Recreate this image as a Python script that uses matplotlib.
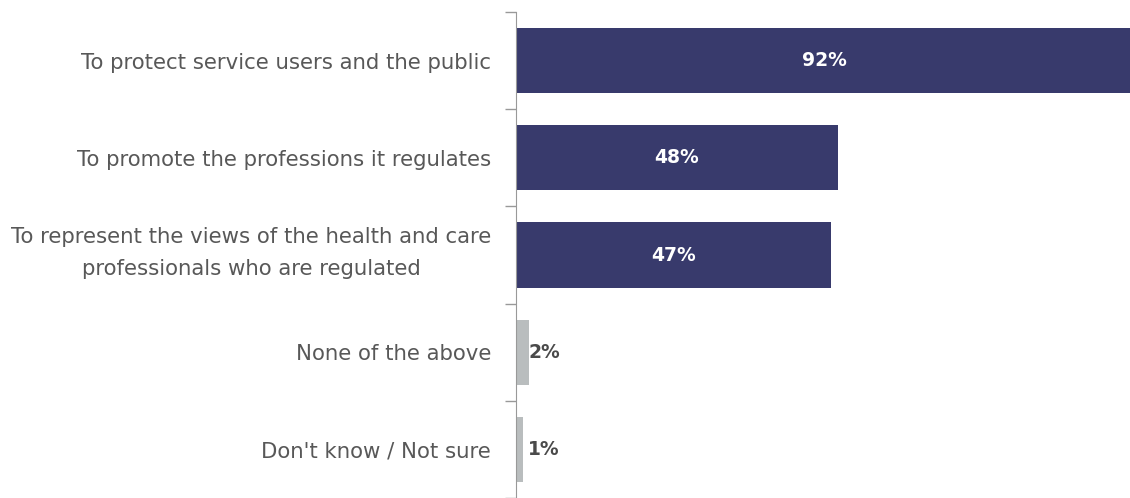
import matplotlib.pyplot as plt
import matplotlib.transforms as mtransforms

categories = [
    "To protect service users and the public",
    "To promote the professions it regulates",
    "To represent the views of the health and care\nprofessionals who are regulated",
    "None of the above",
    "Don't know / Not sure",
]
values = [92, 48, 47, 2, 1]
colors = ["#383a6c", "#383a6c", "#383a6c", "#b9bdbe", "#b9bdbe"]

plt.rcParams['font.family'] = ['DejaVu Sans']

fig = plt.figure(figsize=(11.3, 4.98), dpi=100)
ax = fig.add_axes([516 / 1130, 0, 1 - 516 / 1130, 1 - 12 / 498])

pos = list(range(len(categories)))
ax.barh(pos, values, height=0.67, color=colors, zorder=2)
ax.set_ylim(len(categories) - 0.5, -0.5)
ax.set_xlim(0, 91.5)

# value labels: white inside big bars, grey next to small ones
for i, v in enumerate(values):
    if v > 10:
        ax.text(v / 2, i, f"{v}%", ha='center', va='center', color='white',
                fontsize=13.5, fontweight='bold')
    else:
        ax.text(1.8, i, f"{v}%", ha='left', va='center', color='#4a4a4a',
                fontsize=13.5, fontweight='bold')

# category names centered between the boundaries, ticks on the boundaries
ax.set_yticks([p - 0.5 for p in pos] + [len(categories) - 0.5])
ax.set_yticklabels([])
ax.set_yticks(pos, minor=True)
ax.set_yticklabels(categories, minor=True, fontsize=15.3, color='#585858',
                   linespacing=1.75)
ax.tick_params(axis='y', which='major', length=8, color='#999999', width=1)
ax.tick_params(axis='y', which='minor', length=0, pad=18)
for lbl in ax.get_yticklabels(minor=True):
    lbl.set_horizontalalignment('right')
    lbl.set_multialignment('center')
    if "\n" in lbl.get_text():
        # two-line label sits a little higher in the original
        lbl.set_transform(lbl.get_transform() +
                          mtransforms.ScaledTranslation(0, 7 / 72, fig.dpi_scale_trans))

ax.set_xticks([])
for s in ['top', 'right', 'bottom']:
    ax.spines[s].set_visible(False)
ax.spines['left'].set_color('#999999')

fig.savefig("out.png", dpi=100)
